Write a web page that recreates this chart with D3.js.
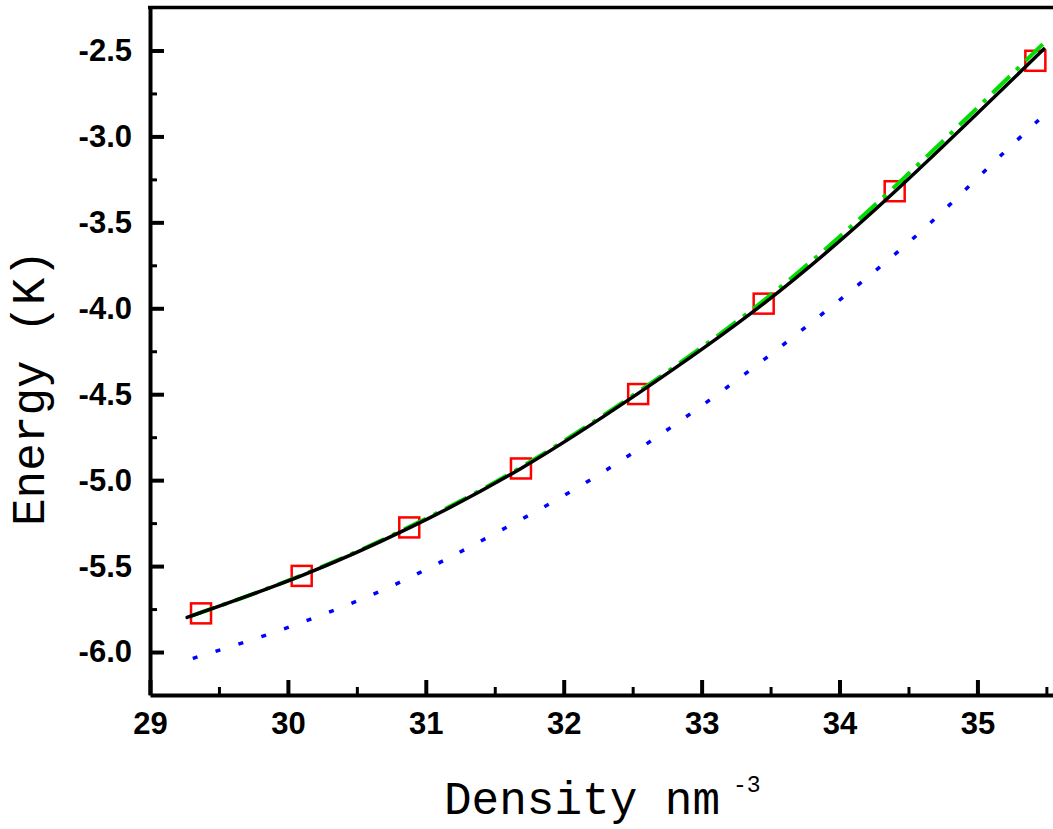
<!DOCTYPE html>
<html>
<head>
<meta charset="utf-8">
<script src="https://cdn.jsdelivr.net/npm/d3@7"></script>
<style>
    body { margin: 0; background: #fff; }
    .tick-label text { font-family: "Liberation Sans", Arial, sans-serif; font-weight: bold; }
    .title { font-family: "Courier New", "Liberation Mono", monospace; }
</style>
</head>
<body>
<div id="chart"></div>
<script>
// measured points (red squares)
const squareX = [29.37, 30.10, 30.88, 31.69, 32.54, 33.45, 34.40, 35.42];
const squareY = [-5.775, -5.557, -5.275, -4.932, -4.499, -3.973, -3.319, -2.560];

// black solid fit
const fitX = [29.30, 29.37, 30.10, 30.88, 31.69, 32.54, 33.45, 34.40, 35.49];
const fitY = [-5.790, -5.770, -5.555, -5.278, -4.932, -4.495, -3.973, -3.322, -2.485];

// green dash-dot curve
const greenX = [29.30, 30.10, 30.88, 31.69, 32.54, 33.45, 34.40, 35.49];
const greenY = [-5.790, -5.553, -5.272, -4.925, -4.486, -3.955, -3.292, -2.450];

// blue dotted curve
const blueX = [29.31, 29.75, 30.20, 30.65, 31.09, 31.53, 31.98, 32.43, 32.87, 33.32, 33.76, 34.21, 34.66, 35.10, 35.40, 35.46];
const blueY = [-6.037, -5.926, -5.798, -5.653, -5.484, -5.298, -5.100, -4.879, -4.641, -4.379, -4.106, -3.815, -3.502, -3.165, -2.938, -2.890];

const xTicks = [29, 30, 31, 32, 33, 34, 35];
const xMinor = [29.5, 30.5, 31.5, 32.5, 33.5, 34.5, 35.5];
const yTicks = [-6.0, -5.5, -5.0, -4.5, -4.0, -3.5, -3.0, -2.5];
const yMinor = [-5.75, -5.25, -4.75, -4.25, -3.75, -3.25, -2.75];

const width = 1053, height = 829;
const margin = { left: 150, right: 1053, top: 7.5, bottom: 695 };

const svg = d3.select('#chart').append('svg')
    .attr('width', width)
    .attr('height', height);

const x = d3.scaleLinear().domain([29, 35.548]).range([margin.left, margin.right]);
const y = d3.scaleLinear().domain([-6.25, -2.25]).range([margin.bottom, margin.top]);

// top frame line
svg.append('line')
    .attr('x1', margin.left - 2).attr('x2', width)
    .attr('y1', margin.top).attr('y2', margin.top)
    .attr('stroke', '#000').attr('stroke-width', 3.5);

// minor ticks
svg.append('g')
    .attr('transform', `translate(${margin.left},0)`)
    .call(d3.axisLeft(y).tickValues(yMinor).tickSize(-7).tickSizeOuter(0).tickFormat(''))
    .call(g => g.select('.domain').remove())
    .call(g => g.selectAll('line').attr('stroke-width', 3));

svg.append('g')
    .attr('transform', `translate(0,${margin.bottom})`)
    .call(d3.axisBottom(x).tickValues(xMinor).tickSize(-8).tickSizeOuter(0).tickFormat(''))
    .call(g => g.select('.domain').remove())
    .call(g => g.selectAll('line').attr('stroke-width', 3));

// major axes
svg.append('g')
    .attr('class', 'tick-label')
    .attr('transform', `translate(${margin.left},0)`)
    .call(d3.axisLeft(y).tickValues(yTicks).tickSize(-14).tickSizeOuter(0).tickPadding(18))
    .call(g => g.select('.domain').attr('stroke-width', 4))
    .call(g => g.selectAll('line').attr('stroke-width', 4))
    .call(g => g.selectAll('text').attr('font-size', 31).attr('fill', '#000')
        .text(d => d3.format('.1f')(d).replace('\u2212', '-')));

svg.append('g')
    .attr('class', 'tick-label')
    .attr('transform', `translate(0,${margin.bottom})`)
    .call(d3.axisBottom(x).tickValues(xTicks).tickSize(-15).tickSizeOuter(0).tickPadding(17)
        .tickFormat(d3.format('d')))
    .call(g => g.select('.domain').attr('stroke-width', 4))
    .call(g => g.selectAll('line').attr('stroke-width', 4))
    .call(g => g.selectAll('text').attr('font-size', 31).attr('fill', '#000'));

// red squares
const sq = 20;
svg.append('g').selectAll('rect')
    .data(squareX.map((d, i) => [d, squareY[i]]))
    .enter().append('rect')
    .attr('x', d => x(d[0]) - sq / 2)
    .attr('y', d => y(d[1]) - sq / 2)
    .attr('width', sq).attr('height', sq)
    .attr('fill', 'none')
    .attr('stroke', '#ff0000')
    .attr('stroke-width', 2.5);

const line = d3.line()
    .x(d => x(d[0]))
    .y(d => y(d[1]))
    .curve(d3.curveNatural);

svg.append('path')
    .datum(blueX.map((d, i) => [d, blueY[i]]))
    .attr('d', line)
    .attr('fill', 'none')
    .attr('stroke', '#0000ff')
    .attr('stroke-width', 3.5)
    .attr('stroke-dasharray', '5,19');

svg.append('path')
    .datum(greenX.map((d, i) => [d, greenY[i]]))
    .attr('d', line)
    .attr('fill', 'none')
    .attr('stroke', '#00dd00')
    .attr('stroke-width', 4)
    .attr('stroke-dasharray', '24,9,4,9');

svg.append('path')
    .datum(fitX.map((d, i) => [d, fitY[i]]))
    .attr('d', line)
    .attr('fill', 'none')
    .attr('stroke', '#000')
    .attr('stroke-width', 3.5);

// axis titles
svg.append('text')
    .attr('class', 'title')
    .attr('x', 444)
    .attr('y', 814)
    .attr('font-size', 46)
    .attr('fill', '#000')
    .text('Density nm');
svg.append('text')
    .attr('class', 'title')
    .attr('x', 733)
    .attr('y', 792)
    .attr('font-size', 23)
    .attr('fill', '#000')
    .text('-3');

svg.append('text')
    .attr('class', 'title')
    .attr('transform', 'translate(44,388) rotate(-90)')
    .attr('text-anchor', 'middle')
    .attr('font-size', 46)
    .attr('fill', '#000')
    .text('Energy (K)');
</script>
</body>
</html>
